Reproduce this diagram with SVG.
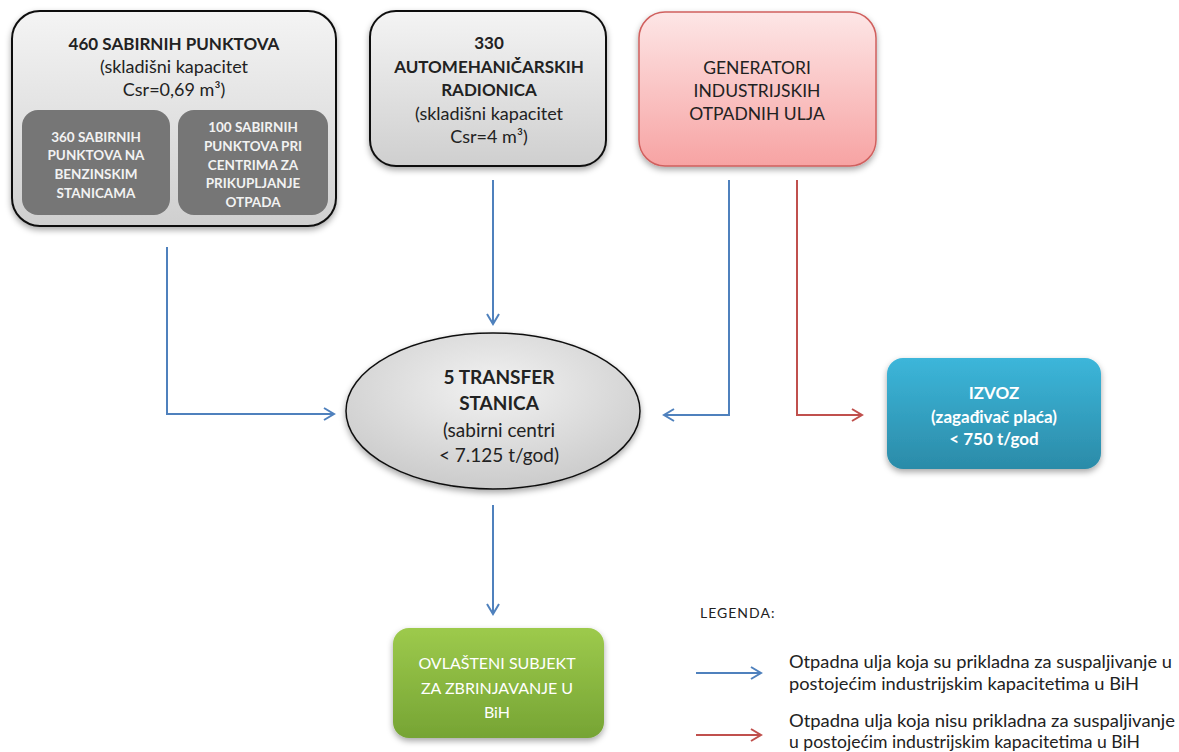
<svg xmlns="http://www.w3.org/2000/svg" width="1179" height="752" viewBox="0 0 1179 752">
<defs>
<linearGradient id="gGray" x1="0" y1="0" x2="0" y2="1"><stop offset="0" stop-color="#f4f4f4"/><stop offset="1" stop-color="#cfcfcf"/></linearGradient>
<linearGradient id="gPink" x1="0" y1="0" x2="0" y2="1"><stop offset="0" stop-color="#fde6e6"/><stop offset="1" stop-color="#f7a3a3"/></linearGradient>
<linearGradient id="gTeal" x1="0" y1="0" x2="0" y2="1"><stop offset="0" stop-color="#3cb6da"/><stop offset="1" stop-color="#2b8ba8"/></linearGradient>
<linearGradient id="gGreen" x1="0" y1="0" x2="0" y2="1"><stop offset="0" stop-color="#9dca4c"/><stop offset="1" stop-color="#76a434"/></linearGradient>
<radialGradient id="gEll" cx="0.5" cy="0.35" r="0.7"><stop offset="0" stop-color="#f2f2f2"/><stop offset="1" stop-color="#c8c8c8"/></radialGradient>
<filter id="sh" x="-10%" y="-10%" width="120%" height="130%"><feDropShadow dx="0" dy="3" stdDeviation="3" flood-color="#000" flood-opacity="0.35"/></filter>
<marker id="ab" markerWidth="14" markerHeight="14" refX="11" refY="7" orient="auto" markerUnits="userSpaceOnUse"><path d="M1,1 L11,7 L1,13" fill="none" stroke="#4f81bd" stroke-width="2"/></marker>
<marker id="ar" markerWidth="14" markerHeight="14" refX="11" refY="7" orient="auto" markerUnits="userSpaceOnUse"><path d="M1,1 L11,7 L1,13" fill="none" stroke="#c0504d" stroke-width="2"/></marker>
</defs>
<style>
text{font-family:Lato,"Liberation Sans",sans-serif;text-anchor:middle}
.t{font-size:17px;fill:#222}
.r{font-size:18px}
.b{font-weight:bold}
.s{font-size:13.5px;font-weight:bold;fill:#f2f2f2}
.w{font-size:16px;fill:#fff}
.iz{font-size:17px;font-weight:bold;fill:#fff}
.lg{font-size:16.5px;fill:#222;text-anchor:start}
.cb{fill:none;stroke:#4f81bd;stroke-width:2}
.cr{fill:none;stroke:#c0504d;stroke-width:2}
</style>
<rect width="1179" height="752" fill="#fff"/>
<g id="connectors">
<path class="cb" d="M167,247 V414 H334" marker-end="url(#ab)"/>
<path class="cb" d="M493,180 V324" marker-end="url(#ab)"/>
<path class="cb" d="M729,180 V415 H664" marker-end="url(#ab)"/>
<path class="cr" d="M797,180 V415 H862" marker-end="url(#ar)"/>
<path class="cb" d="M493,505 V614" marker-end="url(#ab)"/>
</g>
<g id="sabirni">
<rect x="12" y="11" width="324" height="215" rx="28" fill="url(#gGray)" stroke="#111" stroke-width="2" filter="url(#sh)"/>
<text class="t b" x="174" y="50">460 SABIRNIH PUNKTOVA</text>
<text class="t r" x="174" y="73">(skladišni kapacitet</text>
<text class="t r" x="174" y="96">Csr=0,69 m³)</text>
</g>
<g id="benzinske">
<rect x="22" y="110" width="148" height="105" rx="16" fill="#767676"/>
<text class="s" x="96" y="142">360 SABIRNIH</text>
<text class="s" x="96" y="160">PUNKTOVA NA</text>
<text class="s" x="96" y="179">BENZINSKIM</text>
<text class="s" x="96" y="198">STANICAMA</text>
</g>
<g id="centri">
<rect x="178" y="110" width="150" height="105" rx="16" fill="#767676"/>
<text class="s" x="253" y="132">100 SABIRNIH</text>
<text class="s" x="253" y="151">PUNKTOVA PRI</text>
<text class="s" x="253" y="170">CENTRIMA ZA</text>
<text class="s" x="253" y="188">PRIKUPLJANJE</text>
<text class="s" x="253" y="207">OTPADA</text>
</g>
<g id="radionice">
<rect x="370" y="11" width="236" height="155" rx="26" fill="url(#gGray)" stroke="#111" stroke-width="2" filter="url(#sh)"/>
<text class="t b" x="489" y="49">330</text>
<text class="t b" x="489" y="73">AUTOMEHANIČARSKIH</text>
<text class="t b" x="489" y="96">RADIONICA</text>
<text class="t r" x="489" y="120">(skladišni kapacitet</text>
<text class="t r" x="489" y="143">Csr=4 m³)</text>
</g>
<g id="generatori">
<rect x="639" y="12" width="237" height="154" rx="26" fill="url(#gPink)" stroke="#d0605e" stroke-width="1.5" filter="url(#sh)"/>
<text class="t" x="757" y="74" style="font-size:17.5px">GENERATORI</text>
<text class="t" x="757" y="97" style="font-size:17.5px">INDUSTRIJSKIH</text>
<text class="t" x="757" y="120" style="font-size:17.5px">OTPADNIH ULJA</text>
</g>
<g id="transfer">
<ellipse cx="493" cy="411" rx="147" ry="78" fill="url(#gEll)" stroke="#111" stroke-width="1.5" filter="url(#sh)"/>
<text class="t b" x="499" y="384" style="font-size:19px">5 TRANSFER</text>
<text class="t b" x="499" y="410" style="font-size:19px">STANICA</text>
<text class="t" x="499" y="437" style="font-size:19px">(sabirni centri</text>
<text class="t" x="499" y="462" style="font-size:19px">&lt; 7.125 t/god)</text>
</g>
<g id="izvoz">
<rect x="887" y="358" width="214" height="111" rx="16" fill="url(#gTeal)" filter="url(#sh)"/>
<text class="iz" x="994" y="399">IZVOZ</text>
<text class="iz" x="994" y="423">(zagađivač plaća)</text>
<text class="iz" x="994" y="445">&lt; 750 t/god</text>
</g>
<g id="ovlasteni">
<rect x="393" y="628" width="211" height="110" rx="16" fill="url(#gGreen)" filter="url(#sh)"/>
<text class="w" x="497" y="669">OVLAŠTENI SUBJEKT</text>
<text class="w" x="497" y="694">ZA ZBRINJAVANJE U</text>
<text class="w" x="497" y="718">BiH</text>
</g>
<g id="legenda">
<text class="lg" x="700" y="618" style="font-size:14px;letter-spacing:1px">LEGENDA:</text>
<path class="cb" d="M696,673 H761" marker-end="url(#ab)"/>
<path class="cr" d="M696,735 H761" marker-end="url(#ar)"/>
<text class="lg" x="789" y="668" textLength="383" lengthAdjust="spacingAndGlyphs">Otpadna ulja koja su prikladna za suspaljivanje u</text>
<text class="lg" x="789" y="690" textLength="350" lengthAdjust="spacingAndGlyphs">postojećim industrijskim kapacitetima u BiH</text>
<text class="lg" x="789" y="727" textLength="386" lengthAdjust="spacingAndGlyphs">Otpadna ulja koja nisu prikladna za suspaljivanje</text>
<text class="lg" x="789" y="748" textLength="351" lengthAdjust="spacingAndGlyphs">u postojećim industrijskim kapacitetima u BiH</text>
</g>
</svg>
